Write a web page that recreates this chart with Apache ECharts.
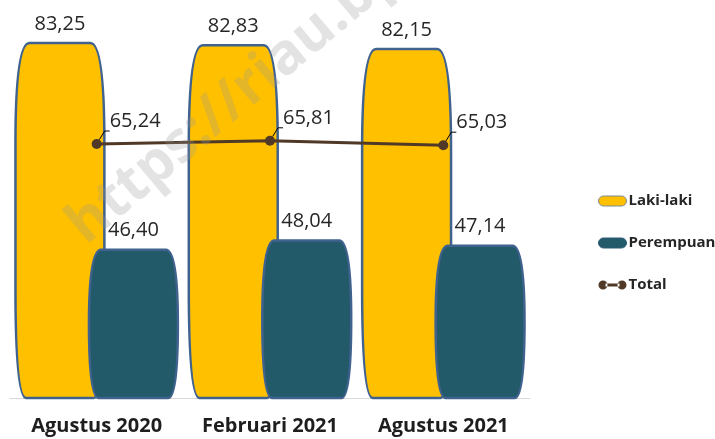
<!DOCTYPE html>
<html>
<head>
<meta charset="utf-8">
<script src="https://cdn.jsdelivr.net/npm/echarts@6/dist/echarts.min.js"></script>
<style>
  html, body { margin: 0; padding: 0; background: #fff; }
  #chart { width: 715px; height: 439px; }
</style>
</head>
<body>
<div id="chart"></div>
<script>
// Tingkat partisipasi angkatan kerja menurut jenis kelamin
const categories = ['Agustus 2020', 'Februari 2021', 'Agustus 2021'];
const lakiLaki = [83.25, 82.83, 82.15];
const perempuan = [46.40, 48.04, 47.14];
const total = [65.24, 65.81, 65.03];

const Y_MIN = 20;
const Y_MAX = 90;
const FONT = '"Open Sans", "Noto Sans", sans-serif';

function fmt(v) {
  return v.toFixed(2).replace('.', ',');
}

// Barrel-shaped column: narrower flat top and bottom, sides bulging outwards
function barrel(side, fill, topInset, botInset) {
  return function (params, api) {
    const idx = api.value(0);
    const v = api.value(1);
    const top = api.coord([idx, v]);
    const base = api.coord([idx, Y_MIN]);
    const band = api.size([1, 0])[0];
    const w = band * 0.513;
    const cx = top[0] + side * band * 0.212;
    const x0 = cx - w / 2, x1 = cx + w / 2;
    const y0 = top[1], y1 = base[1];
    const h = y1 - y0;
    const rt = w * topInset, ryt = Math.min(100, h / 2);
    const rb = w * botInset, ryb = Math.min(110, h / 2);
    const d = [
      'M', x0 + rt, y0,
      'L', x1 - rt, y0,
      'Q', x1, y0, x1, y0 + ryt,
      'L', x1, y1 - ryb,
      'Q', x1, y1, x1 - rb, y1,
      'L', x0 + rb, y1,
      'Q', x0, y1, x0, y1 - ryb,
      'L', x0, y0 + ryt,
      'Q', x0, y0, x0 + rt, y0,
      'Z'
    ].join(' ');
    return {
      type: 'group',
      children: [
        {
          type: 'path',
          shape: { pathData: d },
          style: { fill: fill, stroke: '#40628E', lineWidth: 2.5 }
        },
        {
          type: 'text',
          style: {
            text: fmt(v),
            x: cx,
            y: y0 - 9,
            align: 'center',
            verticalAlign: 'bottom',
            fontSize: 20,
            fontFamily: FONT,
            fill: '#262626'
          }
        }
      ]
    };
  };
}

const pill = 'path://M5,0H23A5,5 0 0 1 23,10H5A5,5 0 0 1 5,0Z';
const dotLine = 'path://M0,5a4.5,4.5 0 1,0 9,0a4.5,4.5 0 1,0 -9,0Z M19,5a4.5,4.5 0 1,0 9,0a4.5,4.5 0 1,0 -9,0Z M7,3.5H21V6.5H7Z';

const chart = echarts.init(document.getElementById('chart'), null, { renderer: 'canvas' });

chart.setOption({
  animation: false,
  backgroundColor: '#ffffff',
  grid: { left: 10, right: 185, top: 5, bottom: 41 },
  xAxis: {
    type: 'category',
    data: categories,
    axisLine: { show: true, lineStyle: { color: '#D9D9D9', width: 1 } },
    axisTick: { show: false },
    axisLabel: {
      interval: 0,
      margin: 18,
      fontSize: 20,
      fontWeight: 'bold',
      fontFamily: FONT,
      color: '#1E1E1E'
    }
  },
  yAxis: {
    type: 'value',
    min: Y_MIN,
    max: Y_MAX,
    show: false,
    splitLine: { show: false }
  },
  legend: {
    orient: 'vertical',
    left: 593,
    top: 188,
    itemWidth: 28,
    itemHeight: 10,
    itemGap: 26,
    textStyle: {
      fontSize: 15,
      lineHeight: 16,
      fontWeight: 'bold',
      fontFamily: FONT,
      color: '#262626',
      padding: [0, 0, 0, -3]
    },
    data: [
      { name: 'Laki-laki', icon: pill, itemStyle: { color: '#FFC000', borderColor: '#7F8A99', borderWidth: 1 } },
      { name: 'Perempuan', icon: pill, itemStyle: { color: '#225A6A', borderColor: '#2C5A78', borderWidth: 1 } },
      { name: 'Total', icon: dotLine, itemStyle: { color: '#503A27' } }
    ]
  },
  graphic: [
    {
      type: 'text',
      z: 50,
      x: 94,
      y: 255,
      rotation: Math.PI * 40 / 180,
      silent: true,
      style: {
        text: 'https://riau.bps.go.id',
        fontSize: 57,
        fontWeight: 'bold',
        fontFamily: FONT,
        fill: 'rgba(150,150,150,0.27)',
        align: 'left',
        verticalAlign: 'bottom'
      }
    }
  ],
  series: [
    {
      name: 'Laki-laki',
      type: 'custom',
      z: 2,
      itemStyle: { color: '#FFC000' },
      renderItem: barrel(-1, '#FFC000', 0.157, 0.12),
      encode: { x: 0, y: 1 },
      data: lakiLaki.map((v, i) => [i, v])
    },
    {
      name: 'Perempuan',
      type: 'custom',
      z: 3,
      itemStyle: { color: '#225A6A' },
      renderItem: barrel(1, '#225A6A', 0.135, 0.11),
      encode: { x: 0, y: 1 },
      data: perempuan.map((v, i) => [i, v])
    },
    {
      name: 'Total',
      type: 'line',
      z: 5,
      data: total,
      symbol: 'circle',
      symbolSize: 10,
      itemStyle: { color: '#503A27' },
      lineStyle: { color: '#503A27', width: 3 },
      label: {
        show: true,
        position: 'right',
        distance: 8,
        offset: [0, -23],
        fontSize: 20,
        fontFamily: FONT,
        color: '#262626',
        formatter: p => fmt(p.value)
      },
      labelLine: {
        show: true,
        length2: 5,
        lineStyle: { color: '#000000', width: 1 }
      }
    }
  ]
});
</script>
</body>
</html>
